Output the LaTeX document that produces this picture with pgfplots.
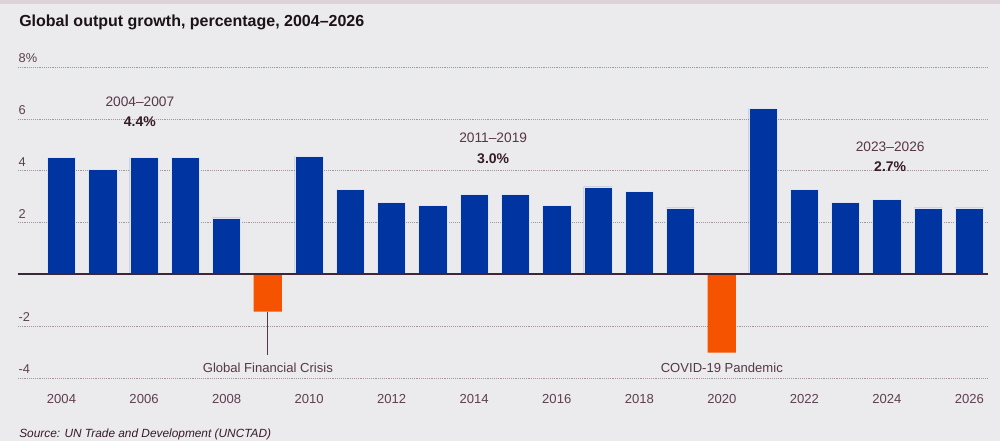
\documentclass[border=0pt]{standalone}
\usepackage{pgfplots}
\pgfplotsset{compat=1.18}
\usepackage{fontspec}
\setmainfont{Liberation Sans}
\definecolor{bg}{HTML}{EBEAEC}
\definecolor{topband}{HTML}{DCD4D8}
\definecolor{barblue}{HTML}{0035A1}
\definecolor{barorange}{HTML}{F65300}
\definecolor{gridc}{HTML}{A3959E}
\definecolor{zeroc}{HTML}{3B2737}
\definecolor{tickc}{HTML}{5E3F52}
\definecolor{annc}{HTML}{573749}
\definecolor{boldc}{HTML}{361B2A}
\definecolor{titlec}{HTML}{1C1219}
\definecolor{halo}{HTML}{DCE4F6}
\begin{document}
\begin{tikzpicture}
\useasboundingbox (0,0) rectangle (750pt,330.75pt);
\fill[bg] (0,0) rectangle (750pt,330.75pt);
\fill[topband] (0,327.75pt) rectangle (750pt,330.75pt);
\node[anchor=base west, inner sep=0pt, font=\fontsize{12}{14}\selectfont\bfseries, text=titlec] at (14.25pt,310.5pt) {Global output growth, percentage, 2004–2026};
\node[anchor=base west, inner sep=0pt, font=\fontsize{8.9}{10}\selectfont\itshape, text=boldc] at (14.25pt,2.5pt) {Source: UN Trade and Development (UNCTAD)};
\begin{axis}[
  at={(13.5pt,47.25pt)}, anchor=south west,
  scale only axis, width=727.5pt, height=233.25pt,
  xmin=2002.946, xmax=2026.45, ymin=-4, ymax=8,
  ybar, bar width=21.2pt,
  axis line style={draw=none},
  tick style={draw=none},
  ymajorgrids,
  major grid style={densely dotted, color=gridc, line width=0.5pt},
  ytick={-4,-2,0,2,4,6,8},
  yticklabels={-4,-2,,2,4,6,8\%},
  yticklabel style={anchor=south west, inner sep=0pt, xshift=0.3pt, yshift=3pt, font=\fontsize{9.6}{11}\selectfont, text=tickc},
  xtick={2004,2006,...,2026},
  xticklabels={2004,2006,2008,2010,2012,2014,2016,2018,2020,2022,2024,2026},
  xticklabel style={anchor=north, inner sep=0pt, yshift=-7.5pt, font=\fontsize{9.8}{11}\selectfont, text=tickc},
  /pgf/number format/assume math mode=true,
  clip=false,
]
\addplot[fill=barblue, draw=halo, line width=0.5pt, bar shift=0pt] coordinates {
 (2004,4.50) (2005,4.06) (2006,4.50) (2007,4.50) (2008,2.18)
 (2010,4.56) (2011,3.28) (2012,2.76) (2013,2.67) (2014,3.09) (2015,3.09)
 (2016,2.67) (2017,3.37) (2018,3.21) (2019,2.56)
 (2021,6.39) (2022,3.28) (2023,2.76) (2024,2.89) (2025,2.56) (2026,2.56)
};
\addplot[fill=barorange, draw=none, bar shift=0pt] coordinates {
 (2009,-1.44) (2020,-3.02)
};
\draw[zeroc, line width=1.4pt] (axis cs:2002.946,0) -- (axis cs:2026.45,0);
\draw[annc, line width=0.8pt] (axis cs:2009,-1.44) -- (axis cs:2009,-3.11);
\begin{scope}[every node/.style={inner sep=0pt, font=\fontsize{10.3}{12}\selectfont, text=annc}]
\node at (axis cs:2005.9,6.66) {2004–2007};
\node[font=\fontsize{10.5}{12}\selectfont\bfseries, text=boldc] at (axis cs:2005.9,5.89) {4.4\%};
\node at (axis cs:2014.46,5.26) {2011–2019};
\node[font=\fontsize{10.5}{12}\selectfont\bfseries, text=boldc] at (axis cs:2014.46,4.45) {3.0\%};
\node at (axis cs:2024.08,4.92) {2023–2026};
\node[font=\fontsize{10.5}{12}\selectfont\bfseries, text=boldc] at (axis cs:2024.08,4.15) {2.7\%};
\node[font=\fontsize{9.8}{11}\selectfont] at (axis cs:2009,-3.62) {Global Financial Crisis};
\node[font=\fontsize{9.8}{11}\selectfont] at (axis cs:2020,-3.62) {COVID-19 Pandemic};
\end{scope}
\end{axis}
\end{tikzpicture}
\end{document}
